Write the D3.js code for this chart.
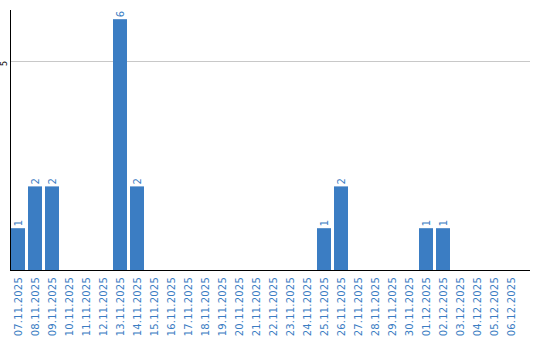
<!DOCTYPE html>
<html>
<head>
<meta charset="utf-8">
<script src="https://cdn.jsdelivr.net/npm/d3@7"></script>
<style>
  body { margin: 0; background: #fff; }
  svg { display: block; }
</style>
</head>
<body>
<svg class="chart"></svg>
<script>
let dates = ["07.11.2025","08.11.2025","09.11.2025","10.11.2025","11.11.2025","12.11.2025",
  "13.11.2025","14.11.2025","15.11.2025","16.11.2025","17.11.2025","18.11.2025","19.11.2025",
  "20.11.2025","21.11.2025","22.11.2025","23.11.2025","24.11.2025","25.11.2025","26.11.2025",
  "27.11.2025","28.11.2025","29.11.2025","30.11.2025","01.12.2025","02.12.2025","03.12.2025",
  "04.12.2025","05.12.2025","06.12.2025"];
let counts = [1,2,2,0,0,0,6,2,0,0,0,0,0,0,0,0,0,0,1,2,0,0,0,0,1,1,0,0,0,0];
let yTicks = [5];

let width = 540;
let height = 340;
let blue = "#3b7dc3";

let svg = d3.select(".chart").attr("width", width).attr("height", height);

// step of 17px, bars 14px wide
let x = d3.scaleBand()
  .domain(dates)
  .range([9.5, 519.5])
  .paddingInner(3 / 17)
  .paddingOuter(1.5 / 17);

let y = d3.scaleLinear()
  .domain([0, 6.22])
  .range([270, 10]);

let bars = counts.map((c, i) => ({date: dates[i], value: c})).filter(d => d.value > 0);

// grid line
svg.selectAll("line.grid")
  .data(yTicks)
  .enter()
  .append("line")
  .attr("class", "grid")
  .attr("x1", 10).attr("x2", 530)
  .attr("y1", d => Math.round(y(d)) + 0.5)
  .attr("y2", d => Math.round(y(d)) + 0.5)
  .attr("stroke", "#c8c8c8")
  .attr("stroke-width", 1);

// y tick labels
svg.selectAll("text.ytick")
  .data(yTicks)
  .enter()
  .append("text")
  .attr("class", "ytick")
  .attr("transform", d => "translate(7," + (y(d) + 2.5) + ") rotate(-90)")
  .attr("text-anchor", "middle")
  .style("font-family", "DejaVu Sans, sans-serif")
  .style("font-size", "8px")
  .attr("fill", "#000")
  .text(d => d);

// bars
svg.selectAll("rect.bar")
  .data(bars)
  .enter()
  .append("rect")
  .attr("class", "bar")
  .attr("x", d => x(d.date))
  .attr("y", d => y(d.value))
  .attr("width", x.bandwidth())
  .attr("height", d => y(0) - y(d.value))
  .attr("fill", blue);

// value labels
svg.selectAll("text.val")
  .data(bars)
  .enter()
  .append("text")
  .attr("class", "val")
  .attr("transform", d => "translate(" + (x(d.date) + x.bandwidth() / 2 + 3.5) + "," + (y(d.value) - 2) + ") rotate(-90)")
  .attr("text-anchor", "start")
  .style("font-family", "DejaVu Sans, sans-serif")
  .style("font-size", "10px")
  .attr("fill", blue)
  .text(d => d.value);

// axes lines
svg.append("line")
  .attr("x1", 10.5).attr("x2", 10.5)
  .attr("y1", 10).attr("y2", 270)
  .attr("stroke", "#000").attr("stroke-width", 1);
svg.append("line")
  .attr("x1", 10).attr("x2", 530)
  .attr("y1", 270.5).attr("y2", 270.5)
  .attr("stroke", "#000").attr("stroke-width", 1);

// x labels
svg.selectAll("text.xlab")
  .data(dates)
  .enter()
  .append("text")
  .attr("class", "xlab")
  .attr("transform", d => "translate(" + (x(d) + x.bandwidth() / 2 + 3.5) + ",277) rotate(-90)")
  .attr("text-anchor", "end")
  .style("font-family", "DejaVu Sans, sans-serif")
  .style("font-size", "10px")
  .style("letter-spacing", "0.2px")
  .attr("fill", blue)
  .text(d => d);
</script>
</body>
</html>
